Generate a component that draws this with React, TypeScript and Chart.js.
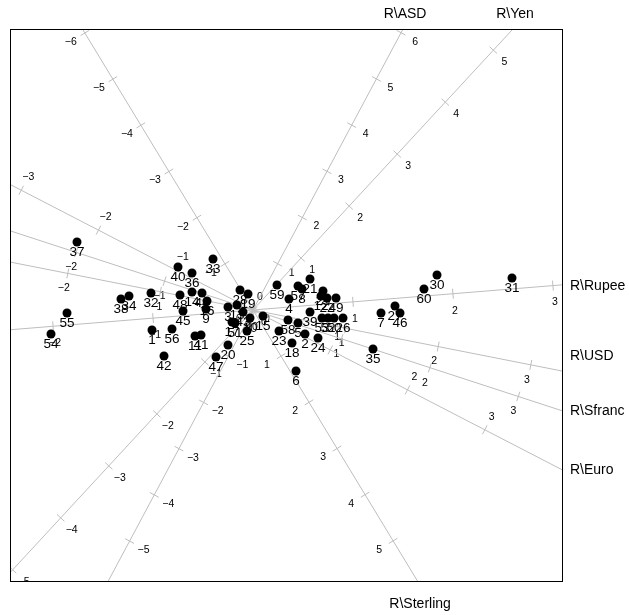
import React, { useEffect, useRef } from "react";
import { Chart, registerables } from "chart.js";

Chart.register(...registerables);

// Sample identifiers and their biplot coordinates
const pointIds = [
  "1", "2", "3", "4", "5", "6", "7", "8", "9", "10",
  "11", "12", "13", "14", "15", "16", "17", "18", "19", "20",
  "21", "22", "23", "24", "25", "26", "27", "28", "29", "30",
  "31", "32", "33", "34", "35", "36", "37", "38", "39", "40",
  "41", "42", "43", "44", "45", "46", "47", "48", "49", "50",
  "51", "52", "53", "54", "55", "56", "57", "58", "59", "60",
];
const pcX = [
  -1.01, 0.52, -0.25, 0.36, 0.45, 0.43, 1.28, 0.49, -0.47, -0.03,
  -0.58, 0.68, -0.16, -0.61, 0.10, -0.46, -0.21, 0.39, -0.05, -0.25,
  0.57, 0.74, 0.26, 0.65, -0.06, 0.90, 1.42, -0.13, 0.70, 1.84,
  2.59, -1.02, -0.40, -1.24, 1.20, -0.61, -1.76, -1.32, 0.57, -0.75,
  -0.52, -0.89, -0.10, -0.51, -0.70, 1.47, -0.37, -0.73, 0.83, 0.81,
  -0.18, 0.75, 0.69, -2.02, -1.86, -0.81, 0.45, 0.35, 0.24, 1.71,
];
const pcY = [
  -0.20, -0.24, 0.03, 0.11, -0.13, -0.61, -0.03, 0.21, 0.01, -0.08,
  -0.26, 0.14, 0.05, 0.18, -0.06, 0.09, -0.12, -0.33, 0.16, -0.35,
  0.31, 0.12, -0.21, -0.28, -0.21, -0.08, 0.04, 0.20, 0.19, 0.35,
  0.32, 0.17, 0.51, 0.14, -0.39, 0.37, 0.68, 0.11, -0.02, 0.43,
  -0.25, -0.46, -0.02, 0.17, -0.01, -0.03, -0.47, 0.15, 0.12, -0.08,
  -0.13, -0.08, -0.08, -0.24, -0.03, -0.19, 0.24, -0.10, 0.25, 0.21,
];

// Calibrated variable axes
const axisNames = ["R\\Rupee", "R\\USD", "R\\Sfranc", "R\\Euro", "R\\Sterling", "R\\ASD", "R\\Yen"];
const axisDirX = [0.9967, 0.981, 0.951, 0.888, 0.519, 0.471, 0.679];
const axisDirY = [0.0811, -0.1937, -0.31, -0.459, -0.855, 0.882, 0.734];
const axisUnit = [1.003, 0.944, 0.93, 0.87, 0.54, 0.524, 0.708];
const axisTickMin = [-2, -2, -2, -3, -6, -5, -5];
const axisTickMax = [3, 3, 3, 3, 5, 6, 5];

// label placement (style only)
const tickLabelDx = [2, -4, -5, 7, -14, 14, 11];
const tickLabelDy = [17, 15, 15, -13, 9, 9, 12];
const nameDy = [1, -15, 0, 0, 0, 0, 0];

const X_MIN = -2.43, X_MAX = 3.1, Y_MIN = -2.72, Y_MAX = 2.81;
const AXIS_COLOR = "#bebebe";
const FONT = "'Liberation Sans', Arial, Helvetica, sans-serif";

const fmt = (v: number) => (v < 0 ? "\u2212" + Math.abs(v) : String(v));

const biplotPlugin = {
  id: "biplot",
  beforeDatasetsDraw(chart: any) {
    const { ctx, chartArea: a, scales } = chart;
    const xs = scales.x, ys = scales.y;
    ctx.save();
    ctx.beginPath();
    ctx.rect(a.left, a.top, a.right - a.left, a.bottom - a.top);
    ctx.clip();
    const ox = xs.getPixelForValue(0), oy = ys.getPixelForValue(0);
    for (let i = 0; i < axisNames.length; i++) {
      let ux = xs.getPixelForValue(axisDirX[i]) - ox;
      let uy = ys.getPixelForValue(axisDirY[i]) - oy;
      const len = Math.hypot(ux, uy);
      ux /= len; uy /= len;
      const nx = -uy, ny = ux;
      for (let v = axisTickMin[i]; v <= axisTickMax[i]; v++) {
        const tx = xs.getPixelForValue(v * axisUnit[i] * axisDirX[i]);
        const ty = ys.getPixelForValue(v * axisUnit[i] * axisDirY[i]);
        ctx.strokeStyle = AXIS_COLOR;
        ctx.lineWidth = 1;
        ctx.beginPath();
        ctx.moveTo(tx - nx * 5, ty - ny * 5);
        ctx.lineTo(tx + nx * 5, ty + ny * 5);
        ctx.stroke();
        ctx.fillStyle = "#000";
        ctx.font = `10.5px ${FONT}`;
        ctx.textAlign = "center";
        ctx.textBaseline = "middle";
        ctx.fillText(fmt(v), tx + tickLabelDx[i], ty + tickLabelDy[i]);
      }
    }
    ctx.restore();
  },
  afterDatasetsDraw(chart: any) {
    const { ctx, chartArea: a, scales } = chart;
    const xs = scales.x, ys = scales.y;
    ctx.save();
    // point labels
    ctx.fillStyle = "#000";
    ctx.font = `13.5px ${FONT}`;
    ctx.textAlign = "center";
    ctx.textBaseline = "middle";
    for (let k = 0; k < pointIds.length; k++) {
      const px = xs.getPixelForValue(pcX[k]);
      const py = ys.getPixelForValue(pcY[k]);
      ctx.fillText(pointIds[k], px, py + 10);
    }
    // frame
    ctx.strokeStyle = "#000";
    ctx.lineWidth = 1;
    ctx.strokeRect(a.left + 0.5, a.top + 0.5, a.right - a.left - 1, a.bottom - a.top - 1);
    // axis names
    const ox = xs.getPixelForValue(0), oy = ys.getPixelForValue(0);
    ctx.font = `14px ${FONT}`;
    for (let i = 0; i < axisNames.length; i++) {
      let ux = xs.getPixelForValue(axisDirX[i]) - ox;
      let uy = ys.getPixelForValue(axisDirY[i]) - oy;
      const len = Math.hypot(ux, uy);
      ux /= len; uy /= len;
      let t = Infinity, side = "";
      if (ux > 0) { const tt = (a.right - ox) / ux; if (tt < t) { t = tt; side = "r"; } }
      if (uy < 0) { const tt = (a.top - oy) / uy; if (tt < t) { t = tt; side = "t"; } }
      if (uy > 0) { const tt = (a.bottom - oy) / uy; if (tt < t) { t = tt; side = "b"; } }
      const ex = ox + ux * t, ey = oy + uy * t;
      if (side === "r") {
        ctx.textAlign = "left"; ctx.textBaseline = "middle";
        ctx.fillText(axisNames[i], a.right + 7, ey + nameDy[i]);
      } else if (side === "t") {
        ctx.textAlign = "center"; ctx.textBaseline = "middle";
        ctx.fillText(axisNames[i], ex + 2, a.top - 15 + nameDy[i]);
      } else {
        ctx.textAlign = "center"; ctx.textBaseline = "middle";
        ctx.fillText(axisNames[i], ex + 2, a.bottom + 22 + nameDy[i]);
      }
    }
    ctx.restore();
  },
};

export default function App() {
  const ref = useRef<HTMLCanvasElement | null>(null);
  useEffect(() => {
    if (!ref.current) return;
    const axisSets = axisNames.map((n, i) => ({
      type: "line" as const,
      label: n,
      data: [
        { x: -20 * axisDirX[i], y: -20 * axisDirY[i] },
        { x: 20 * axisDirX[i], y: 20 * axisDirY[i] },
      ],
      borderColor: AXIS_COLOR,
      borderWidth: 1,
      pointRadius: 0,
      showLine: true,
      order: 2,
    }));
    const chart = new Chart(ref.current, {
      type: "scatter",
      data: {
        datasets: [
          ...axisSets,
          {
            type: "scatter" as const,
            label: "samples",
            data: pcX.map((x, k) => ({ x, y: pcY[k] })),
            backgroundColor: "#000",
            borderWidth: 0,
            pointRadius: 4.5,
            order: 1,
          },
        ] as any,
      },
      options: {
        animation: false,
        responsive: false,
        devicePixelRatio: 1,
        layout: { padding: { left: 10, top: 29, right: 66, bottom: 33 } },
        plugins: { legend: { display: false }, tooltip: { enabled: false } },
        scales: {
          x: { type: "linear", min: X_MIN, max: X_MAX, display: false },
          y: { type: "linear", min: Y_MIN, max: Y_MAX, display: false },
        },
      },
      plugins: [biplotPlugin],
    });
    return () => chart.destroy();
  }, []);
  return (
    <div style={{ position: "fixed", left: 0, top: 0, width: 629, height: 615, overflow: "hidden" }}>
      <canvas ref={ref} width={629} height={615} style={{ display: "block" }} />
    </div>
  );
}
